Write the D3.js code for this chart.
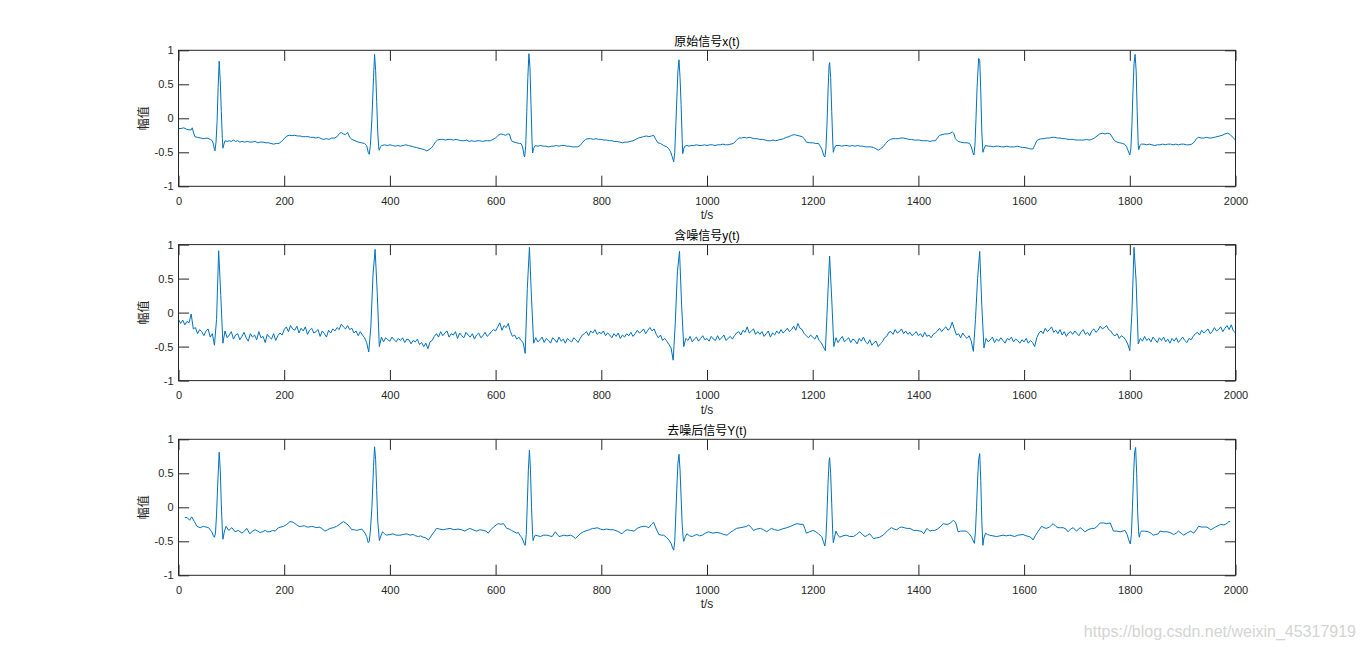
<!DOCTYPE html>
<html><head><meta charset="utf-8">
<script src="https://cdn.jsdelivr.net/npm/d3@7"></script>
<style>
html,body{margin:0;padding:0;background:#fff;}
svg{display:block;}
</style></head>
<body>
<svg id="chart" width="1366" height="650"></svg>
<script>
// ---------------- data ----------------
const xTicks = [0,200,400,600,800,1000,1200,1400,1600,1800,2000];
const yTicks = [-1,-0.5,0,0.5,1];
const titles = ["原始信号x(t)", "含噪信号y(t)", "去噪后信号Y(t)"];
const xLabel = "t/s";
const yLabel = "幅值";

// original signal x(t): [t, value]
const originalSignal = [[0,-0.15],[5,-0.15],[10,-0.14],[15,-0.16],[20,-0.17],[24,-0.17],[26,-0.14],[28,-0.2],[31,-0.27],[36,-0.28],[42,-0.29],[48,-0.30],[54,-0.29],[60,-0.31],[64,-0.33],[66,-0.38],[68,-0.46],[69,-0.48],[71,-0.35],[73,-0.05],[75,0.45],[77,0.84],[79,0.55],[81,0.1],[83,-0.3],[84,-0.44],[86,-0.38],[88,-0.33],[92,-0.34],[96,-0.33],[100,-0.34],[104,-0.32],[108,-0.34],[112,-0.33],[116,-0.35],[120,-0.34],[125,-0.35],[130,-0.34],[135,-0.35],[140,-0.35],[145,-0.34],[150,-0.36],[155,-0.35],[160,-0.35],[165,-0.36],[170,-0.36],[175,-0.37],[180,-0.38],[185,-0.37],[190,-0.37],[195,-0.34],[200,-0.30],[205,-0.26],[210,-0.25],[215,-0.255],[220,-0.25],[225,-0.26],[230,-0.26],[235,-0.27],[240,-0.27],[245,-0.27],[250,-0.28],[255,-0.28],[260,-0.29],[265,-0.28],[270,-0.30],[275,-0.31],[280,-0.30],[285,-0.31],[290,-0.29],[295,-0.29],[300,-0.27],[305,-0.22],[308,-0.21],[312,-0.23],[316,-0.24],[320,-0.21],[324,-0.28],[328,-0.31],[334,-0.33],[340,-0.35],[346,-0.36],[352,-0.37],[356,-0.40],[359,-0.50],[361,-0.53],[363,-0.4],[366,0.0],[369,0.6],[371,0.94],[373,0.7],[375,0.25],[377,-0.2],[379,-0.45],[380,-0.47],[382,-0.42],[385,-0.40],[390,-0.39],[395,-0.40],[400,-0.39],[405,-0.40],[410,-0.41],[415,-0.40],[420,-0.41],[425,-0.40],[430,-0.39],[435,-0.40],[440,-0.41],[445,-0.42],[450,-0.43],[455,-0.44],[460,-0.45],[465,-0.46],[470,-0.48],[474,-0.46],[478,-0.44],[482,-0.40],[486,-0.35],[490,-0.32],[495,-0.31],[500,-0.31],[505,-0.32],[510,-0.31],[515,-0.31],[520,-0.32],[525,-0.31],[530,-0.32],[535,-0.33],[540,-0.33],[545,-0.32],[550,-0.34],[555,-0.33],[560,-0.34],[565,-0.33],[570,-0.33],[575,-0.34],[580,-0.33],[585,-0.33],[590,-0.33],[595,-0.31],[600,-0.29],[605,-0.25],[610,-0.23],[615,-0.24],[619,-0.25],[623,-0.23],[626,-0.23],[630,-0.33],[635,-0.35],[640,-0.36],[645,-0.37],[648,-0.37],[651,-0.42],[654,-0.55],[655,-0.57],[657,-0.4],[659,0.1],[661,0.6],[663,0.95],[665,0.75],[667,0.2],[669,-0.35],[670,-0.51],[672,-0.44],[675,-0.40],[680,-0.41],[685,-0.40],[690,-0.41],[695,-0.41],[700,-0.42],[705,-0.41],[710,-0.41],[715,-0.40],[720,-0.41],[725,-0.40],[730,-0.40],[735,-0.41],[740,-0.41],[745,-0.42],[750,-0.42],[755,-0.42],[760,-0.40],[765,-0.35],[770,-0.31],[775,-0.30],[780,-0.30],[785,-0.31],[790,-0.30],[795,-0.31],[800,-0.31],[805,-0.32],[810,-0.32],[815,-0.33],[820,-0.33],[825,-0.34],[830,-0.34],[835,-0.35],[840,-0.36],[845,-0.35],[850,-0.35],[855,-0.34],[860,-0.33],[865,-0.31],[870,-0.29],[875,-0.28],[880,-0.27],[885,-0.26],[890,-0.27],[895,-0.26],[899,-0.25],[903,-0.31],[907,-0.36],[912,-0.37],[918,-0.40],[924,-0.42],[928,-0.45],[931,-0.49],[934,-0.56],[937,-0.64],[939,-0.5],[941,-0.1],[943,0.3],[945,0.7],[947,0.86],[949,0.6],[951,0.2],[953,-0.3],[954,-0.52],[956,-0.45],[958,-0.41],[962,-0.40],[966,-0.41],[970,-0.40],[975,-0.40],[980,-0.39],[985,-0.40],[990,-0.40],[995,-0.39],[1000,-0.40],[1005,-0.39],[1010,-0.39],[1015,-0.40],[1020,-0.39],[1025,-0.39],[1030,-0.38],[1035,-0.39],[1040,-0.39],[1045,-0.38],[1050,-0.37],[1055,-0.33],[1060,-0.29],[1065,-0.29],[1070,-0.28],[1075,-0.29],[1080,-0.28],[1085,-0.29],[1090,-0.30],[1095,-0.30],[1100,-0.31],[1105,-0.31],[1110,-0.32],[1115,-0.33],[1120,-0.33],[1125,-0.32],[1130,-0.33],[1135,-0.32],[1140,-0.31],[1145,-0.30],[1150,-0.28],[1155,-0.27],[1160,-0.25],[1165,-0.24],[1170,-0.25],[1175,-0.26],[1180,-0.27],[1184,-0.30],[1188,-0.35],[1194,-0.36],[1200,-0.36],[1206,-0.37],[1211,-0.37],[1215,-0.42],[1218,-0.47],[1221,-0.55],[1223,-0.57],[1225,-0.45],[1227,-0.1],[1229,0.4],[1231,0.78],[1232,0.82],[1234,0.6],[1236,0.1],[1238,-0.35],[1239,-0.50],[1241,-0.44],[1244,-0.40],[1250,-0.40],[1255,-0.41],[1260,-0.40],[1265,-0.40],[1270,-0.41],[1275,-0.40],[1280,-0.41],[1285,-0.40],[1290,-0.41],[1295,-0.41],[1300,-0.42],[1305,-0.42],[1310,-0.42],[1315,-0.43],[1320,-0.45],[1324,-0.47],[1328,-0.45],[1333,-0.42],[1338,-0.37],[1343,-0.33],[1347,-0.31],[1352,-0.30],[1357,-0.30],[1362,-0.30],[1367,-0.29],[1372,-0.29],[1377,-0.30],[1382,-0.31],[1387,-0.31],[1392,-0.32],[1397,-0.32],[1402,-0.32],[1407,-0.33],[1412,-0.33],[1417,-0.33],[1422,-0.34],[1427,-0.33],[1432,-0.33],[1436,-0.29],[1440,-0.25],[1445,-0.24],[1450,-0.23],[1455,-0.23],[1460,-0.22],[1464,-0.20],[1467,-0.22],[1470,-0.30],[1475,-0.34],[1480,-0.35],[1486,-0.36],[1492,-0.36],[1497,-0.37],[1500,-0.42],[1503,-0.50],[1505,-0.54],[1507,-0.4],[1509,0.0],[1511,0.45],[1514,0.88],[1516,0.86],[1518,0.4],[1520,-0.2],[1522,-0.50],[1524,-0.45],[1527,-0.40],[1532,-0.41],[1537,-0.41],[1542,-0.42],[1547,-0.41],[1552,-0.41],[1557,-0.42],[1562,-0.42],[1567,-0.41],[1572,-0.42],[1577,-0.42],[1582,-0.42],[1587,-0.41],[1592,-0.42],[1597,-0.43],[1602,-0.43],[1607,-0.44],[1612,-0.45],[1617,-0.45],[1620,-0.40],[1624,-0.33],[1628,-0.31],[1633,-0.30],[1638,-0.30],[1643,-0.29],[1648,-0.29],[1653,-0.28],[1658,-0.28],[1663,-0.29],[1668,-0.29],[1673,-0.30],[1678,-0.30],[1683,-0.31],[1688,-0.31],[1693,-0.31],[1698,-0.32],[1703,-0.32],[1708,-0.32],[1713,-0.32],[1718,-0.31],[1723,-0.32],[1728,-0.31],[1733,-0.29],[1738,-0.26],[1743,-0.23],[1748,-0.22],[1753,-0.23],[1758,-0.22],[1763,-0.23],[1767,-0.28],[1771,-0.33],[1776,-0.35],[1781,-0.36],[1786,-0.37],[1790,-0.38],[1794,-0.42],[1797,-0.48],[1800,-0.54],[1802,-0.45],[1804,-0.1],[1806,0.4],[1808,0.8],[1810,0.94],[1812,0.7],[1814,0.1],[1816,-0.4],[1817,-0.46],[1819,-0.40],[1822,-0.38],[1827,-0.38],[1832,-0.39],[1837,-0.38],[1842,-0.39],[1847,-0.40],[1852,-0.39],[1857,-0.39],[1862,-0.38],[1867,-0.39],[1872,-0.38],[1877,-0.38],[1882,-0.39],[1887,-0.38],[1892,-0.39],[1897,-0.38],[1902,-0.38],[1907,-0.39],[1912,-0.39],[1917,-0.38],[1922,-0.35],[1926,-0.30],[1930,-0.28],[1935,-0.29],[1940,-0.29],[1945,-0.28],[1950,-0.29],[1955,-0.29],[1960,-0.28],[1965,-0.27],[1970,-0.26],[1975,-0.25],[1980,-0.23],[1985,-0.22],[1990,-0.24],[1995,-0.28],[2000,-0.32]];

// noisy signal y(t): one row per 100 s, samples every 4 s
const noisyStep = 4;
const noisyRows = [
[-0.10,-0.16,-0.11,-0.18,-0.13,-0.15,-0.02,-0.24,-0.22,-0.31,-0.25,-0.28,-0.34,-0.27,-0.24,-0.36,-0.31,-0.48,-0.10,0.91,0.25,-0.45,-0.27,-0.37,-0.33],
[-0.28,-0.39,-0.33,-0.31,-0.40,-0.35,-0.29,-0.37,-0.42,-0.31,-0.36,-0.33,-0.40,-0.28,-0.37,-0.35,-0.44,-0.32,-0.36,-0.39,-0.31,-0.41,-0.34,-0.30,-0.33],
[-0.25,-0.21,-0.28,-0.19,-0.24,-0.26,-0.20,-0.30,-0.23,-0.27,-0.21,-0.32,-0.26,-0.23,-0.30,-0.28,-0.25,-0.35,-0.27,-0.31,-0.36,-0.26,-0.30,-0.24,-0.27],
[-0.22,-0.25,-0.17,-0.21,-0.24,-0.19,-0.25,-0.23,-0.30,-0.27,-0.34,-0.28,-0.33,-0.37,-0.44,-0.58,-0.20,0.55,0.93,0.30,-0.50,-0.36,-0.43,-0.37,-0.40],
[-0.42,-0.36,-0.40,-0.43,-0.38,-0.41,-0.37,-0.44,-0.39,-0.40,-0.46,-0.41,-0.43,-0.39,-0.47,-0.44,-0.50,-0.45,-0.53,-0.43,-0.41,-0.35,-0.31,-0.36,-0.28],
[-0.34,-0.30,-0.27,-0.36,-0.31,-0.33,-0.28,-0.38,-0.30,-0.34,-0.37,-0.29,-0.33,-0.36,-0.31,-0.39,-0.33,-0.30,-0.37,-0.34,-0.29,-0.35,-0.32,-0.28,-0.25],
[-0.27,-0.21,-0.15,-0.26,-0.19,-0.22,-0.16,-0.28,-0.35,-0.33,-0.39,-0.36,-0.41,-0.44,-0.60,0.35,0.96,0.20,-0.45,-0.37,-0.43,-0.40,-0.36,-0.44,-0.38],
[-0.41,-0.45,-0.37,-0.40,-0.44,-0.36,-0.42,-0.39,-0.45,-0.38,-0.41,-0.43,-0.37,-0.40,-0.44,-0.38,-0.33,-0.31,-0.28,-0.34,-0.27,-0.30,-0.25,-0.32,-0.29],
[-0.31,-0.27,-0.34,-0.30,-0.33,-0.37,-0.31,-0.35,-0.30,-0.38,-0.33,-0.36,-0.31,-0.34,-0.29,-0.35,-0.31,-0.26,-0.30,-0.28,-0.24,-0.31,-0.26,-0.22,-0.27],
[-0.24,-0.32,-0.37,-0.33,-0.41,-0.38,-0.42,-0.47,-0.52,-0.70,-0.15,0.60,0.90,0.10,-0.50,-0.38,-0.41,-0.35,-0.43,-0.39,-0.36,-0.42,-0.38,-0.34,-0.40],
[-0.38,-0.42,-0.35,-0.39,-0.41,-0.34,-0.40,-0.37,-0.33,-0.41,-0.38,-0.35,-0.39,-0.34,-0.30,-0.28,-0.33,-0.26,-0.29,-0.21,-0.30,-0.27,-0.24,-0.32,-0.28],
[-0.32,-0.28,-0.35,-0.31,-0.27,-0.36,-0.30,-0.33,-0.27,-0.31,-0.25,-0.30,-0.27,-0.23,-0.28,-0.25,-0.20,-0.26,-0.16,-0.23,-0.25,-0.31,-0.34,-0.37,-0.33],
[-0.36,-0.39,-0.33,-0.41,-0.44,-0.50,-0.56,0.15,0.83,0.20,-0.50,-0.37,-0.44,-0.39,-0.35,-0.43,-0.40,-0.37,-0.44,-0.39,-0.41,-0.46,-0.38,-0.42,-0.36],
[-0.43,-0.46,-0.40,-0.48,-0.44,-0.42,-0.50,-0.46,-0.43,-0.37,-0.35,-0.29,-0.28,-0.32,-0.25,-0.30,-0.28,-0.24,-0.31,-0.27,-0.32,-0.29,-0.34,-0.31,-0.28],
[-0.34,-0.31,-0.36,-0.29,-0.35,-0.33,-0.37,-0.32,-0.30,-0.27,-0.23,-0.28,-0.24,-0.21,-0.26,-0.23,-0.14,-0.24,-0.33,-0.31,-0.37,-0.30,-0.35,-0.38,-0.34],
[-0.42,-0.57,-0.10,0.50,0.90,0.10,-0.52,-0.38,-0.43,-0.40,-0.36,-0.44,-0.39,-0.42,-0.37,-0.41,-0.45,-0.38,-0.40,-0.36,-0.43,-0.39,-0.41,-0.45,-0.40],
[-0.43,-0.38,-0.45,-0.41,-0.44,-0.50,-0.37,-0.30,-0.27,-0.31,-0.23,-0.28,-0.25,-0.21,-0.29,-0.26,-0.31,-0.25,-0.33,-0.28,-0.35,-0.30,-0.28,-0.32,-0.27],
[-0.31,-0.34,-0.28,-0.25,-0.32,-0.29,-0.34,-0.27,-0.24,-0.29,-0.26,-0.20,-0.24,-0.22,-0.19,-0.25,-0.27,-0.32,-0.34,-0.31,-0.38,-0.34,-0.36,-0.40,-0.46],
[-0.56,0.00,0.96,0.45,-0.46,-0.38,-0.42,-0.35,-0.41,-0.38,-0.43,-0.36,-0.40,-0.44,-0.37,-0.41,-0.36,-0.43,-0.39,-0.45,-0.38,-0.42,-0.37,-0.44,-0.40],
[-0.36,-0.41,-0.44,-0.38,-0.40,-0.35,-0.31,-0.29,-0.33,-0.26,-0.30,-0.27,-0.24,-0.31,-0.28,-0.22,-0.27,-0.25,-0.21,-0.28,-0.23,-0.19,-0.25,-0.18,-0.27,-0.30]
];

// denoised signal Y(t): [t, value]
const denoisedSignal = [[12,-0.15],[16,-0.15],[21,-0.19],[25,-0.14],[30,-0.21],[35,-0.28],[41,-0.30],[47,-0.28],[52,-0.29],[57,-0.30],[63,-0.36],[66,-0.42],[68,-0.44],[70,-0.38],[72,-0.1],[74,0.3],[77,0.81],[79,0.55],[81,0.05],[83,-0.35],[84,-0.47],[87,-0.35],[90,-0.28],[95,-0.34],[101,-0.30],[107,-0.36],[113,-0.34],[120,-0.38],[125,-0.35],[129,-0.31],[135,-0.39],[140,-0.35],[145,-0.33],[150,-0.35],[154,-0.37],[159,-0.36],[164,-0.34],[168,-0.36],[173,-0.36],[178,-0.34],[183,-0.35],[189,-0.30],[194,-0.29],[199,-0.28],[205,-0.25],[211,-0.21],[217,-0.22],[224,-0.26],[228,-0.28],[233,-0.28],[238,-0.27],[243,-0.29],[247,-0.29],[252,-0.28],[257,-0.29],[262,-0.30],[266,-0.29],[271,-0.31],[277,-0.35],[282,-0.33],[287,-0.31],[293,-0.30],[299,-0.28],[305,-0.25],[312,-0.21],[316,-0.23],[321,-0.26],[328,-0.33],[333,-0.33],[337,-0.34],[342,-0.33],[347,-0.32],[353,-0.38],[356,-0.43],[359,-0.52],[361,-0.50],[363,-0.35],[366,0.0],[369,0.6],[371,0.89],[373,0.7],[375,0.25],[377,-0.2],[380,-0.49],[383,-0.42],[386,-0.36],[390,-0.39],[394,-0.41],[400,-0.40],[406,-0.39],[412,-0.41],[419,-0.41],[425,-0.40],[432,-0.39],[438,-0.41],[444,-0.40],[449,-0.42],[454,-0.43],[458,-0.42],[463,-0.44],[468,-0.45],[473,-0.48],[476,-0.45],[479,-0.41],[484,-0.36],[488,-0.31],[494,-0.32],[501,-0.33],[507,-0.32],[514,-0.31],[521,-0.33],[529,-0.32],[535,-0.33],[542,-0.35],[546,-0.33],[551,-0.31],[557,-0.33],[564,-0.35],[570,-0.33],[577,-0.34],[582,-0.35],[586,-0.38],[591,-0.33],[596,-0.29],[601,-0.26],[605,-0.24],[610,-0.25],[615,-0.24],[621,-0.31],[626,-0.32],[630,-0.34],[635,-0.36],[640,-0.38],[643,-0.37],[646,-0.41],[650,-0.45],[654,-0.53],[656,-0.56],[658,-0.4],[660,0.05],[662,0.55],[664,0.84],[666,0.55],[668,0.0],[670,-0.40],[671,-0.49],[673,-0.44],[675,-0.41],[680,-0.42],[685,-0.43],[690,-0.41],[697,-0.41],[702,-0.42],[707,-0.43],[713,-0.36],[717,-0.40],[720,-0.43],[725,-0.42],[729,-0.41],[735,-0.42],[742,-0.41],[747,-0.43],[751,-0.46],[756,-0.42],[760,-0.39],[766,-0.36],[773,-0.34],[778,-0.33],[783,-0.31],[788,-0.31],[792,-0.30],[798,-0.32],[804,-0.33],[810,-0.32],[817,-0.33],[823,-0.33],[830,-0.35],[835,-0.37],[839,-0.39],[844,-0.35],[849,-0.33],[855,-0.34],[862,-0.35],[868,-0.31],[874,-0.29],[879,-0.28],[884,-0.28],[890,-0.30],[895,-0.25],[899,-0.22],[904,-0.32],[909,-0.40],[914,-0.41],[918,-0.41],[923,-0.44],[928,-0.48],[932,-0.53],[935,-0.60],[937,-0.63],[939,-0.50],[941,-0.1],[943,0.3],[945,0.65],[947,0.78],[949,0.55],[951,0.15],[953,-0.25],[955,-0.46],[956,-0.50],[959,-0.43],[962,-0.39],[967,-0.42],[972,-0.43],[977,-0.41],[981,-0.40],[986,-0.42],[991,-0.41],[997,-0.38],[1003,-0.36],[1010,-0.38],[1019,-0.37],[1025,-0.38],[1032,-0.40],[1038,-0.41],[1044,-0.37],[1050,-0.34],[1056,-0.31],[1063,-0.30],[1070,-0.29],[1075,-0.28],[1079,-0.26],[1084,-0.30],[1088,-0.34],[1094,-0.32],[1101,-0.31],[1107,-0.33],[1113,-0.36],[1118,-0.33],[1122,-0.31],[1128,-0.33],[1135,-0.34],[1142,-0.32],[1151,-0.30],[1158,-0.28],[1164,-0.26],[1170,-0.24],[1176,-0.25],[1182,-0.25],[1185,-0.31],[1188,-0.38],[1194,-0.36],[1201,-0.34],[1206,-0.36],[1211,-0.39],[1214,-0.41],[1217,-0.43],[1220,-0.50],[1223,-0.57],[1225,-0.45],[1227,-0.1],[1229,0.35],[1231,0.68],[1232,0.73],[1234,0.5],[1236,0.05],[1238,-0.40],[1239,-0.52],[1241,-0.45],[1244,-0.35],[1247,-0.40],[1251,-0.44],[1257,-0.42],[1264,-0.41],[1270,-0.43],[1277,-0.43],[1283,-0.40],[1289,-0.36],[1294,-0.40],[1299,-0.43],[1304,-0.41],[1308,-0.39],[1312,-0.43],[1315,-0.46],[1321,-0.45],[1327,-0.44],[1333,-0.41],[1340,-0.36],[1345,-0.32],[1349,-0.30],[1354,-0.32],[1359,-0.33],[1364,-0.30],[1368,-0.29],[1373,-0.30],[1378,-0.31],[1384,-0.31],[1391,-0.34],[1397,-0.34],[1403,-0.35],[1407,-0.36],[1410,-0.39],[1413,-0.35],[1416,-0.31],[1419,-0.33],[1422,-0.35],[1426,-0.34],[1431,-0.34],[1436,-0.32],[1441,-0.29],[1447,-0.24],[1452,-0.25],[1456,-0.25],[1461,-0.23],[1466,-0.19],[1470,-0.22],[1472,-0.26],[1475,-0.36],[1480,-0.35],[1486,-0.35],[1491,-0.35],[1496,-0.39],[1500,-0.43],[1503,-0.48],[1506,-0.53],[1508,-0.35],[1510,0.0],[1512,0.4],[1514,0.7],[1516,0.79],[1518,0.4],[1520,-0.2],[1522,-0.56],[1524,-0.45],[1527,-0.38],[1531,-0.40],[1535,-0.41],[1541,-0.42],[1548,-0.43],[1554,-0.42],[1560,-0.41],[1566,-0.42],[1573,-0.41],[1578,-0.42],[1582,-0.43],[1588,-0.41],[1598,-0.40],[1604,-0.42],[1610,-0.43],[1614,-0.45],[1617,-0.48],[1621,-0.42],[1626,-0.36],[1633,-0.28],[1638,-0.30],[1642,-0.31],[1648,-0.29],[1655,-0.24],[1660,-0.28],[1664,-0.30],[1669,-0.30],[1674,-0.30],[1679,-0.32],[1683,-0.36],[1688,-0.32],[1693,-0.30],[1699,-0.35],[1706,-0.30],[1711,-0.33],[1715,-0.36],[1721,-0.33],[1728,-0.31],[1733,-0.31],[1737,-0.29],[1744,-0.23],[1750,-0.23],[1756,-0.24],[1763,-0.23],[1766,-0.29],[1769,-0.35],[1775,-0.35],[1782,-0.36],[1787,-0.35],[1791,-0.34],[1795,-0.40],[1798,-0.48],[1801,-0.54],[1803,-0.40],[1805,0.0],[1807,0.45],[1809,0.80],[1811,0.88],[1813,0.5],[1815,-0.1],[1817,-0.40],[1818,-0.44],[1820,-0.37],[1822,-0.35],[1828,-0.35],[1835,-0.36],[1840,-0.38],[1844,-0.41],[1849,-0.40],[1854,-0.39],[1857,-0.35],[1863,-0.36],[1870,-0.36],[1876,-0.37],[1883,-0.40],[1888,-0.38],[1892,-0.35],[1897,-0.38],[1902,-0.41],[1908,-0.38],[1915,-0.35],[1921,-0.38],[1926,-0.33],[1930,-0.28],[1936,-0.29],[1942,-0.29],[1946,-0.29],[1953,-0.33],[1958,-0.31],[1962,-0.29],[1967,-0.27],[1972,-0.25],[1977,-0.26],[1981,-0.25],[1985,-0.23],[1987,-0.21],[1990,-0.21]];

const watermark = "https://blog.csdn.net/weixin_45317919";

// ---------------- drawing ----------------
const noisySignal = [];
noisyRows.forEach((row, r) => row.forEach((v, j) => noisySignal.push([r * 100 + j * noisyStep, v])));
const series = [originalSignal, noisySignal, denoisedSignal];

const svg = d3.select("#chart");
const axisColor = "#262626";
const lineColor = "#0072BD";
const font = "'Liberation Sans', Arial, 'Noto Sans CJK SC', sans-serif";
const left = 178.5, right = 1235.5, plotH = 136;
const tops = [50.3, 244.6, 439.3];
const tickLen = 10.6;

const x = d3.scaleLinear().domain([0, 2000]).range([left, right]);

tops.forEach((top, i) => {
  const y = d3.scaleLinear().domain([-1, 1]).range([top + plotH, top]);
  const g = svg.append("g");

  // data line
  g.append("path")
    .datum(series[i])
    .attr("fill", "none")
    .attr("stroke", lineColor)
    .attr("stroke-width", 1)
    .attr("stroke-linejoin", "round")
    .attr("d", d3.line().x(d => x(d[0])).y(d => y(d[1])));

  // axes
  const styleAxis = sel => {
    sel.select(".domain").remove();
    sel.selectAll(".tick line").attr("stroke", axisColor).attr("stroke-width", 1);
    sel.selectAll(".tick text").attr("fill", axisColor).style("font-family", font).style("font-size", "11px");
  };
  g.append("g").attr("transform", `translate(0,${top + plotH})`)
    .call(d3.axisBottom(x).tickValues(xTicks).tickSizeInner(-tickLen).tickSizeOuter(0).tickPadding(10.6).tickFormat(d => String(d)))
    .call(styleAxis);
  g.append("g").attr("transform", `translate(0,${top})`)
    .call(d3.axisTop(x).tickValues(xTicks).tickSizeInner(-tickLen).tickSizeOuter(0).tickFormat(""))
    .call(styleAxis);
  g.append("g").attr("transform", `translate(${left},0)`)
    .call(d3.axisLeft(y).tickValues(yTicks).tickSizeInner(-tickLen).tickSizeOuter(0).tickPadding(5).tickFormat(d => String(d)))
    .call(styleAxis);
  g.append("g").attr("transform", `translate(${right},0)`)
    .call(d3.axisRight(y).tickValues(yTicks).tickSizeInner(-tickLen).tickSizeOuter(0).tickFormat(""))
    .call(styleAxis);

  // box
  g.append("rect")
    .attr("x", left).attr("y", top).attr("width", right - left).attr("height", plotH)
    .attr("fill", "none").attr("stroke", axisColor).attr("stroke-width", 1);

  // title
  g.append("text")
    .attr("x", (left + right) / 2).attr("y", top - 4.5)
    .attr("text-anchor", "middle")
    .attr("fill", "#000")
    .style("font-family", font).style("font-size", "12px")
    .text(titles[i]);

  // x label
  g.append("text")
    .attr("x", (left + right) / 2).attr("y", top + plotH + 33)
    .attr("text-anchor", "middle")
    .attr("fill", axisColor)
    .style("font-family", font).style("font-size", "12px")
    .text(xLabel);

  // y label
  g.append("text")
    .attr("transform", `translate(148,${top + plotH / 2}) rotate(-90)`)
    .attr("text-anchor", "middle")
    .attr("fill", axisColor)
    .style("font-family", font).style("font-size", "12px")
    .text(yLabel);
});

svg.append("text")
  .attr("x", 1356).attr("y", 637)
  .attr("text-anchor", "end")
  .attr("fill", "#d4d4d4")
  .style("font-family", font).style("font-size", "16px")
  .text(watermark);
</script>
</body></html>
